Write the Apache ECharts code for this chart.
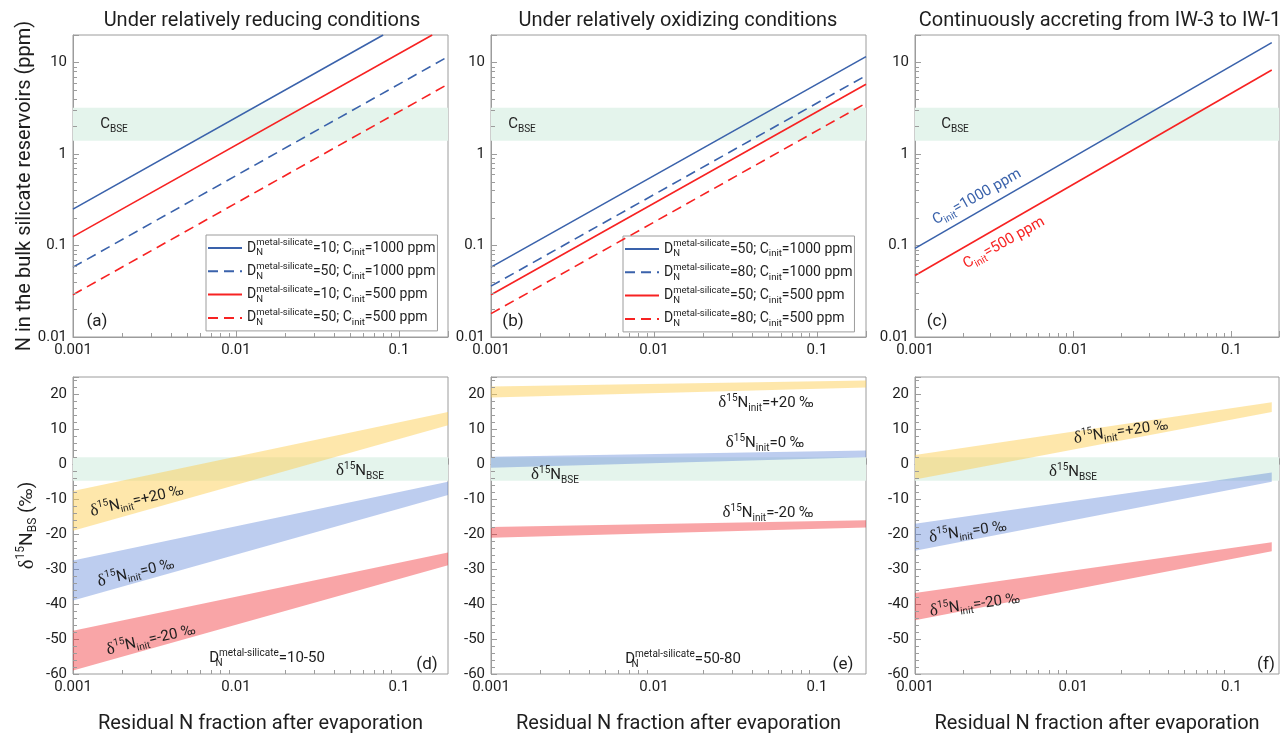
<!DOCTYPE html>
<html>
<head>
<meta charset="utf-8">
<script src="https://cdn.jsdelivr.net/npm/echarts@6/dist/echarts.min.js"></script>
<style>html,body{margin:0;padding:0;background:#fff}#c{width:1282px;height:735px}</style>
</head>
<body>
<div id="c"></div>
<script>
// ---------------- DATA ----------------
const panelTitles = ['Under relatively reducing conditions', 'Under relatively oxidizing conditions', 'Continuously accreting from IW-3 to IW-1'];
const xTickLabels = ['0.001', '0.01', '0.1'];
const topYTickLabels = ['0.01', '0.1', '1', '10'];
const botYTickLabels = ['-60', '-50', '-40', '-30', '-20', '-10', '0', '10', '20'];
const xMinorTicks = [0.002,0.003,0.004,0.005,0.006,0.007,0.008,0.009,0.02,0.03,0.04,0.05,0.06,0.07,0.08,0.09];
const topYMinorTicks = [0.02,0.03,0.04,0.05,0.06,0.07,0.08,0.09,0.2,0.3,0.4,0.5,0.6,0.7,0.8,0.9,2,3,4,5,6,7,8,9];
const botYMinorTicks = [-58,-56,-54,-52,-48,-46,-44,-42,-38,-36,-34,-32,-28,-26,-24,-22,-18,-16,-14,-12,-8,-6,-4,-2,2,4,6,8,12,14,16,18,22,24];

// panel (a): N in bulk silicate (ppm) vs residual fraction
const aD10C1000 = [[0.001, 0.25], [0.08, 20]];
const aD50C1000 = [[0.001, 0.058], [0.2, 11.6]];
const aD10C500  = [[0.001, 0.125], [0.16, 20]];
const aD50C500  = [[0.001, 0.029], [0.2, 5.8]];
// panel (b)
const bD50C1000 = [[0.001, 0.058], [0.2, 11.6]];
const bD80C1000 = [[0.001, 0.036], [0.2, 7.2]];
const bD50C500  = [[0.001, 0.029], [0.2, 5.8]];
const bD80C500  = [[0.001, 0.018], [0.2, 3.6]];
// panel (c)
const cC1000 = [[0.001, 0.093], [0.18, 16.5]];
const cC500  = [[0.001, 0.047], [0.18, 8.3]];
// reference bands
const cBSERange = [1.4, 3.2];      // ppm
const dBSERange = [-4.7, 2];       // permil
// δ15N bands: [x, lower, upper]
const dPlus20  = [[0.001, -19, -7.6], [0.2, 11.2, 15]];
const dZero    = [[0.001, -39, -27.5], [0.2, -8.8, -5]];
const dMinus20 = [[0.001, -59, -47.6], [0.2, -28.9, -25.2]];
const ePlus20  = [[0.001, 19.1, 22.3], [0.2, 22, 24]];
const eZero    = [[0.001, -1, 2.2], [0.2, 2, 4]];
const eMinus20 = [[0.001, -21, -17.9], [0.2, -18.1, -16]];
const fPlus20  = [[0.001, -4.3, 2.7], [0.18, 15, 17.8]];
const fZero    = [[0.001, -24.7, -17], [0.18, -5, -2.3]];
const fMinus20 = [[0.001, -44.6, -36.8], [0.18, -24.9, -22.3]];

const legendA = {a1: ['10', '1000'], a2: ['50', '1000'], a3: ['10', '500'], a4: ['50', '500']};
const legendB = {b1: ['50', '1000'], b2: ['80', '1000'], b3: ['50', '500'], b4: ['80', '500']};

// ---------------- STYLE ----------------
const BLUE = '#3a62ab', RED = '#f72222';
const FRAME = '#9c9c9c', TXT = '#1e1e1e';
const BSE_COLOR = '#e4f4ec';
const YEL = 'rgba(252,204,76,0.47)', BLU = 'rgba(90,130,215,0.4)', REDB = 'rgba(240,40,45,0.42)';
const FONT = 'Roboto';
const GRIDS = [
  {left: 73, top: 35, width: 375, height: 302},
  {left: 491, top: 35, width: 375, height: 302},
  {left: 915, top: 35, width: 375, height: 302},
  {left: 73, top: 377, width: 375, height: 303},
  {left: 491, top: 377, width: 375, height: 303},
  {left: 915, top: 377, width: 375, height: 303}
];

function matchLabel(list, v, log) {
  for (const t of list) {
    const a = +t;
    if (log ? Math.abs(Math.log10(a) - Math.log10(v)) < 1e-6 : Math.abs(a - v) < 1e-9) return t;
  }
  return '';
}

const xAxes = GRIDS.map((g, i) => ({
  type: 'log', logBase: 10, gridIndex: i, min: 0.001, max: 0.2,
  axisLine: {show: true, lineStyle: {color: FRAME, width: 1}},
  axisTick: {show: true, inside: true, length: 6, lineStyle: {color: FRAME}},
  axisLabel: {color: TXT, fontSize: 15, fontFamily: FONT, margin: 6, formatter: v => matchLabel(xTickLabels, v, true)},
  splitLine: {show: false},
  name: i >= 3 ? 'Residual N fraction after evaporation' : '',
  nameLocation: 'middle', nameGap: 40,
  nameTextStyle: {fontSize: 20, color: TXT, fontFamily: FONT}
}));

const yAxes = GRIDS.map((g, i) => {
  const top = i < 3;
  const base = {
    gridIndex: i,
    axisLine: {show: true, lineStyle: {color: FRAME, width: 1}},
    axisTick: {show: true, inside: true, length: 6, lineStyle: {color: FRAME}},
    splitLine: {show: false},
    axisLabel: {color: TXT, fontSize: 15, fontFamily: FONT, margin: 6},
    nameMoveOverlap: false
  };
  if (top) {
    Object.assign(base, {type: 'log', logBase: 10, min: 0.01, max: 20});
    base.axisLabel.formatter = v => matchLabel(topYTickLabels, v, true);
    if (i === 0) Object.assign(base, {
      name: 'N in the bulk silicate reservoirs (ppm)', nameLocation: 'middle', nameGap: 38,
      nameTextStyle: {fontSize: 20, color: TXT, fontFamily: FONT}
    });
  } else {
    Object.assign(base, {type: 'value', min: -60, max: 25, interval: 10});
    base.axisLabel.formatter = v => matchLabel(botYTickLabels, v, false);
    if (i === 3) Object.assign(base, {
      name: '{dl|δ}{sp|15}{m|N}{sb|BS}{m| (‰)}', nameLocation: 'middle', nameGap: 34,
      nameTextStyle: {color: TXT, rich: {
        m: {fontSize: 19, fontFamily: FONT, color: TXT, lineHeight: 24},
        dl: {fontSize: 21, fontFamily: 'Liberation Serif', color: TXT, lineHeight: 24},
        sp: {fontSize: 12, fontFamily: FONT, color: TXT, lineHeight: 10, verticalAlign: 'top'},
        sb: {fontSize: 12, fontFamily: FONT, color: TXT, lineHeight: 14, verticalAlign: 'bottom'}
      }}
    });
  }
  return base;
});

function lineS(name, gi, data, color, dashed) {
  return {
    type: 'line', name: name, xAxisIndex: gi, yAxisIndex: gi, data: data,
    symbol: 'none', showSymbol: false, silent: true, z: 5,
    lineStyle: {color: color, width: 1.6, type: dashed ? [10, 6] : 'solid'},
    itemStyle: {color: color}
  };
}
function bseS(gi, range) {
  return {
    type: 'line', xAxisIndex: gi, yAxisIndex: gi, data: [], silent: true, z: 1,
    markArea: {silent: true, itemStyle: {color: BSE_COLOR}, data: [[{yAxis: range[0]}, {yAxis: range[1]}]]}
  };
}
function bandS(gi, arr, color) {
  return {
    type: 'custom', xAxisIndex: gi, yAxisIndex: gi, data: arr, z: 2, silent: true,
    encode: {x: 0, y: [1, 2]},
    renderItem: function (params, api) {
      if (params.dataIndexInside !== 0) return;
      const n = params.dataInsideLength;
      const lo = [], hi = [];
      for (let k = 0; k < n; k++) {
        const x = api.value(0, k);
        lo.push(api.coord([x, api.value(1, k)]));
        hi.push(api.coord([x, api.value(2, k)]));
      }
      return {type: 'polygon', shape: {points: lo.concat(hi.reverse())}, style: {fill: color}};
    }
  };
}
function minorX(gi, yBase) {
  return {
    type: 'custom', xAxisIndex: gi, yAxisIndex: gi, silent: true, z: 6,
    data: xMinorTicks.map(v => [v, yBase]),
    renderItem: function (params, api) {
      const p = api.coord([api.value(0), api.value(1)]);
      const x = Math.round(p[0]) + 0.5;
      return {type: 'line', shape: {x1: x, y1: p[1], x2: x, y2: p[1] - 4}, style: {stroke: FRAME, lineWidth: 1}};
    }
  };
}
function minorY(gi, vals) {
  return {
    type: 'custom', xAxisIndex: gi, yAxisIndex: gi, silent: true, z: 6,
    data: vals.map(v => [0.001, v]),
    renderItem: function (params, api) {
      const p = api.coord([api.value(0), api.value(1)]);
      const y = Math.round(p[1]) + 0.5;
      return {type: 'line', shape: {x1: p[0], y1: y, x2: p[0] + 4, y2: y}, style: {stroke: FRAME, lineWidth: 1}};
    }
  };
}

const series = [];
for (let i = 0; i < 3; i++) series.push(bseS(i, cBSERange));
for (let i = 3; i < 6; i++) series.push(bseS(i, dBSERange));
series.push(lineS('a1', 0, aD10C1000, BLUE, false), lineS('a2', 0, aD50C1000, BLUE, true),
            lineS('a3', 0, aD10C500, RED, false), lineS('a4', 0, aD50C500, RED, true));
series.push(lineS('b1', 1, bD50C1000, BLUE, false), lineS('b2', 1, bD80C1000, BLUE, true),
            lineS('b3', 1, bD50C500, RED, false), lineS('b4', 1, bD80C500, RED, true));
series.push(lineS('c1', 2, cC1000, BLUE, false), lineS('c2', 2, cC500, RED, false));
series.push(bandS(3, dPlus20, YEL), bandS(3, dZero, BLU), bandS(3, dMinus20, REDB));
series.push(bandS(4, ePlus20, YEL), bandS(4, eZero, BLU), bandS(4, eMinus20, REDB));
series.push(bandS(5, fPlus20, YEL), bandS(5, fZero, BLU), bandS(5, fMinus20, REDB));
for (let i = 0; i < 6; i++) {
  series.push(minorX(i, i < 3 ? 0.01 : -60));
  series.push(minorY(i, i < 3 ? topYMinorTicks : botYMinorTicks));
}

const legendRich = {
  m: {fontSize: 14, fontFamily: FONT, color: TXT, lineHeight: 20},
  n: {fontSize: 9.5, fontFamily: FONT, color: TXT, lineHeight: 12, verticalAlign: 'bottom', width: 0},
  s: {fontSize: 9.5, fontFamily: FONT, color: TXT, lineHeight: 8, verticalAlign: 'top'},
  i: {fontSize: 9.5, fontFamily: FONT, color: TXT, lineHeight: 12, verticalAlign: 'bottom'}
};
function legendFmt(map) {
  return function (name) {
    const v = map[name];
    return '{m|D}{n|N}{s|metal-silicate}{m|=' + v[0] + '; C}{i|init}{m|=' + v[1] + ' ppm}';
  };
}
function legendCfg(map, left, top) {
  return {
    data: Object.keys(map), left: left, top: top, orient: 'vertical',
    itemWidth: 34, itemHeight: 14, itemGap: 3.3,
    padding: [3, 2, 3, 1], borderColor: FRAME, borderWidth: 1, backgroundColor: '#fff',
    selectedMode: false, formatter: legendFmt(map),
    itemStyle: {color: 'rgba(0,0,0,0)', borderColor: 'rgba(0,0,0,0)', borderWidth: 0, opacity: 0},
    textStyle: {rich: legendRich, fontSize: 14, fontFamily: FONT, color: TXT}
  };
}

// graphic text helpers (zrender rich)
const gRich = {
  m: {fontSize: 15, fontFamily: FONT, lineHeight: 20},
  dl: {fontSize: 17, fontFamily: 'Liberation Serif', lineHeight: 20},
  sp: {fontSize: 10, fontFamily: FONT, lineHeight: 8, verticalAlign: 'top'},
  sb: {fontSize: 10, fontFamily: FONT, lineHeight: 12, verticalAlign: 'bottom'},
  n0: {fontSize: 10, fontFamily: FONT, lineHeight: 12, verticalAlign: 'bottom', width: 0}
};
function gText(text, x, y, deg, color, size) {
  return {
    type: 'text', x: x, y: y, rotation: (deg || 0) * Math.PI / 180, silent: true, z: 50,
    style: {text: text, rich: gRich, fill: color || TXT, fontSize: size || 15, fontFamily: FONT, align: 'center', verticalAlign: 'middle'}
  };
}
const dl = s => '{dl|δ}{sp|15}{m|N}{sb|init}{m|=' + s + ' ‰}';
const bse = '{dl|δ}{sp|15}{m|N}{sb|BSE}';
const cbse = '{m|C}{sb|BSE}';
const dn = r => '{m|D}{n0|N}{sp|metal-silicate}{m|=' + r + '}';

const graphics = [
  gText('(a)', 97, 322, 0, TXT, 17), gText('(b)', 513, 322, 0, TXT, 17), gText('(c)', 937, 322, 0, TXT, 17),
  gText('(d)', 427, 665, 0, TXT, 17), gText('(e)', 843, 665, 0, TXT, 17), gText('(f)', 1266, 665, 0, TXT, 17),
  gText(cbse, 114, 124), gText(cbse, 522, 124), gText(cbse, 955, 124),
  gText('{m|C}{sb|init}{m|=1000 ppm}', 977, 197, 29.3, BLUE),
  gText('{m|C}{sb|init}{m|=500 ppm}', 1004, 243, 29.3, RED),
  gText(dl('+20'), 137, 501, 13), gText(dl('0'), 136, 573, 13), gText(dl('-20'), 151, 640, 13),
  gText(bse, 360, 471), gText(dn('10-50'), 267, 658),
  gText(dl('+20'), 766, 403), gText(dl('0'), 765, 443), gText(dl('-20'), 768, 513),
  gText(bse, 555, 475), gText(dn('50-80'), 683, 659),
  gText(dl('+20'), 1121, 432, 8), gText(dl('0'), 968, 532, 8), gText(dl('-20'), 975, 605, 8),
  gText(bse, 1073, 472)
];

const titleX = [262, 678, 1100];
const option = {
  backgroundColor: '#fff',
  animation: false,
  textStyle: {fontFamily: FONT},
  title: panelTitles.map((t, i) => ({
    text: t, left: titleX[i], top: 21, textAlign: 'center', textVerticalAlign: 'middle', padding: 0,
    textStyle: {fontSize: 20, fontWeight: 'normal', color: TXT, fontFamily: FONT}
  })),
  grid: GRIDS.map(g => Object.assign({show: true, borderColor: FRAME, borderWidth: 1, backgroundColor: 'transparent', containLabel: false}, g)),
  xAxis: xAxes,
  yAxis: yAxes,
  legend: [legendCfg(legendA, 206, 235), legendCfg(legendB, 623, 236)],
  graphic: graphics,
  series: series
};

const chart = echarts.init(document.getElementById('c'), null, {renderer: 'canvas', width: 1282, height: 735});
chart.setOption(option);
</script>
</body>
</html>
